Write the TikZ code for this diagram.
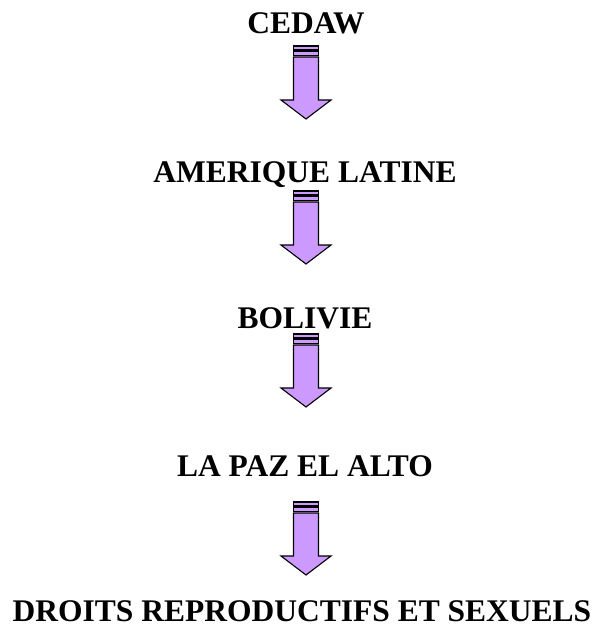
\documentclass[tikz,border=0pt]{standalone}
\usepackage{fontspec}
\setmainfont{Liberation Serif}
\usepackage{tikz}

\definecolor{lilas}{RGB}{204,153,255}

\tikzset{
  titre/.style={anchor=base, inner sep=0pt, font=\bfseries\fontsize{31.5}{38}\selectfont},
  fleche/.pic={
    % deux bandes au-dessus de la fleche
    \draw[fill=lilas, line width=1.1] (-12.5,0) rectangle (12.5,4);
    \draw[fill=lilas, line width=1.1] (-12.5,5.5) rectangle (12.5,9.5);
    % corps et pointe
    \draw[fill=lilas, line width=1.1, line join=miter]
      (-12.5,11) -- (-12.5,54) -- (-25,54) -- (0,73) -- (25,54) -- (12.5,54) -- (12.5,11) -- cycle;
  }
}

\begin{document}
\begin{tikzpicture}[x=1pt, y=-1pt]

        \useasboundingbox (0,0) rectangle (602,626);

        % textes
        \node[titre] (cedaw)    at (306,34)  {CEDAW};
        \node[titre] (amerique) at (305,182) {AMERIQUE LATINE};
        \node[titre] (bolivie)  at (305,328) {BOLIVIE};
        \node[titre] (lapaz)    at (305,476) {LA PAZ EL ALTO};
        \node[titre] (droits)   at (302,621) {DROITS REPRODUCTIFS ET SEXUELS};

        % fleches
        \foreach \y in {46,191,334,502}
            \pic at (306,\y) {fleche};

    \end{tikzpicture}
\end{document}
